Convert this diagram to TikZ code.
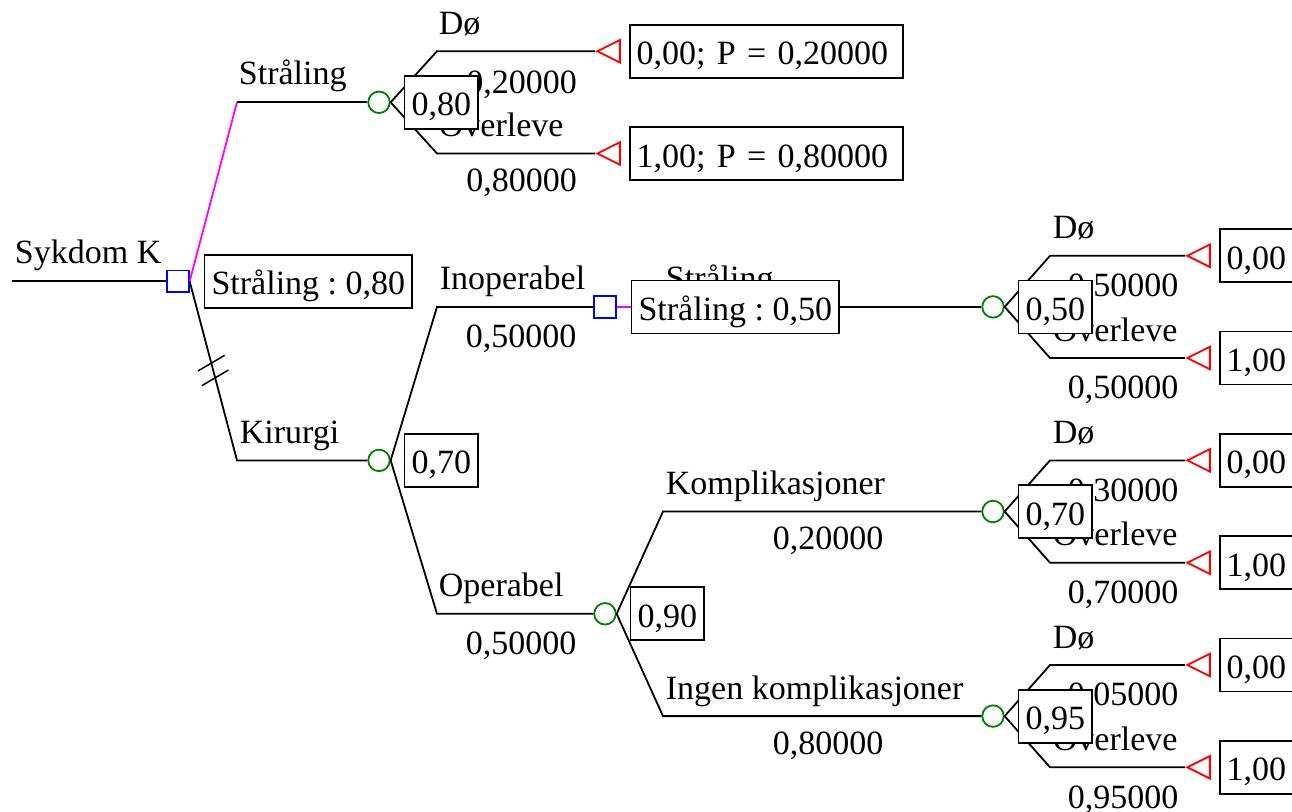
\documentclass[tikz,border=0pt]{standalone}
\usepackage{fontspec}
\setmainfont{Liberation Serif}
\usetikzlibrary{shapes.geometric,calc}
\definecolor{chgreen}{RGB}{0,128,0}
\definecolor{choice}{RGB}{255,0,255}
\frenchspacing

\begin{document}
\begin{tikzpicture}[x=1pt,y=-1pt,line width=1.8pt,
  font=\fontsize{34}{40}\selectfont,
  chance/.style={circle,draw=chgreen,minimum size=21.5pt,inner sep=0pt},
  decision/.style={rectangle,draw=blue,minimum size=21.5pt,inner sep=0pt},
  terminal/.style={isosceles triangle,isosceles triangle stretches,
    shape border rotate=180,draw=red,minimum width=22.5pt,minimum height=22.5pt,
    inner sep=0pt,anchor=apex},
  valbox/.style={draw,fill=white,inner xsep=7pt,inner ysep=10pt,
    text height=30pt,text depth=3pt,anchor=west},
  endbox/.style={valbox,text width=259pt,align=left},
  lbl/.style={inner sep=0pt,anchor=base west},
  prob/.style={inner sep=0pt,anchor=base},
  chosen/.style={draw=choice},
  hash/.style={line width=1.5pt},
]
\useasboundingbox (0,0) rectangle (1292,811);
\clip (0,0) rectangle (1292,811);

% ---- tree nodes ----
\coordinate (root) at (12,281.3);
\node[decision] (d0) at (178,281.3) {};
\node[chance] (cS) at (379,102.3) {};
\node[chance] (cK) at (379,460.4) {};
\node[terminal] (tS1) at (595,51.2) {};
\node[terminal] (tS2) at (595,153.5) {};
\node[decision] (dI) at (605,306.9) {};
\node[chance] (cO) at (605,613.8) {};
\node[chance] (cIS) at (993,306.9) {};
\node[chance] (cKo) at (993,511.5) {};
\node[chance] (cIn) at (993,716.1) {};
\node[terminal] (tIS1) at (1185,255.8) {};
\node[terminal] (tIS2) at (1185,358) {};
\node[terminal] (tKo1) at (1185,460.4) {};
\node[terminal] (tKo2) at (1185,562.7) {};
\node[terminal] (tIn1) at (1185,665) {};
\node[terminal] (tIn2) at (1185,767.3) {};

% ---- branch bends ----
\coordinate (bS) at (237,102.3);
\coordinate (bK) at (237,460.4);
\coordinate (bS1) at (437,51.2);
\coordinate (bS2) at (437,153.5);
\coordinate (bI) at (437,306.9);
\coordinate (bO) at (437,613.8);
\coordinate (bIS) at (663,306.9);
\coordinate (bKo) at (663,511.5);
\coordinate (bIn) at (663,716.1);
\coordinate (bIS1) at (1050,255.8);
\coordinate (bIS2) at (1050,358);
\coordinate (bKo1) at (1050,460.4);
\coordinate (bKo2) at (1050,562.7);
\coordinate (bIn1) at (1050,665);
\coordinate (bIn2) at (1050,767.3);

% ---- connectors ----
\draw (root) -- (d0.west);
\draw[chosen] (d0.east) -- (bS);
\draw (bS) -- (cS.west);
\draw (d0.east) -- (bK) -- (cK.west);
\draw (cS.east) -- (bS1) -- (tS1.apex);
\draw (cS.east) -- (bS2) -- (tS2.apex);
\draw (cK.east) -- (bI) -- (dI.west);
\draw (cK.east) -- (bO) -- (cO.west);
\draw[chosen] (dI.east) -- (bIS);
\draw (bIS) -- (cIS.west);
\draw (cO.east) -- (bKo) -- (cKo.west);
\draw (cO.east) -- (bIn) -- (cIn.west);
\draw (cIS.east) -- (bIS1) -- (tIS1.apex);
\draw (cIS.east) -- (bIS2) -- (tIS2.apex);
\draw (cKo.east) -- (bKo1) -- (tKo1.apex);
\draw (cKo.east) -- (bKo2) -- (tKo2.apex);
\draw (cIn.east) -- (bIn1) -- (tIn1.apex);
\draw (cIn.east) -- (bIn2) -- (tIn2.apex);

% rejected alternative marks
\path (d0.east) -- (bK) coordinate[pos=0.457] (h1) coordinate[pos=0.539] (h2);
\draw[hash] ($(h1)+(-13.3,7.8)$) -- ($(h1)+(13.3,-7.8)$);
\draw[hash] ($(h2)+(-13.3,7.8)$) -- ($(h2)+(13.3,-7.8)$);

% ---- branch labels ----
\node[lbl] (lRoot) at (14,263.5) {Sykdom K};
\node[lbl] (lS) at (238,84.5) {Stråling};
\node[lbl] (lK) at (239,443.4) {Kirurgi};
\node[lbl] (lS1) at (438,34.2) {Dø};
\node[prob] (pS1) at (521.5,93) {0,20000};
\node[lbl] (lS2) at (438,136.5) {Overleve};
\node[prob] (pS2) at (521.5,191) {0,80000};
\node[lbl] (lI) at (439,289.9) {Inoperabel};
\node[prob] (pI) at (521,347.5) {0,50000};
\node[lbl] (lO) at (438,596.8) {Operabel};
\node[prob] (pO) at (521,654.5) {0,50000};
\node[lbl] (lIS) at (665,289.9) {Stråling};
\node[lbl] (lKo) at (665,494.5) {Komplikasjoner};
\node[prob] (pKo) at (828,549) {0,20000};
\node[lbl] (lIn) at (665,699.1) {Ingen komplikasjoner};
\node[prob] (pIn) at (828,754) {0,80000};
\node[lbl] (lIS1) at (1052,238.8) {Dø};
\node[prob] (pIS1) at (1123,296.5) {0,50000};
\node[lbl] (lIS2) at (1052,341) {Overleve};
\node[prob] (pIS2) at (1123,398.5) {0,50000};
\node[lbl] (lKo1) at (1052,443.4) {Dø};
\node[prob] (pKo1) at (1123,501) {0,30000};
\node[lbl] (lKo2) at (1052,545.7) {Overleve};
\node[prob] (pKo2) at (1123,603) {0,70000};
\node[lbl] (lIn1) at (1052,648) {Dø};
\node[prob] (pIn1) at (1123,705.5) {0,05000};
\node[lbl] (lIn2) at (1052,750.3) {Overleve};
\node[prob] (pIn2) at (1123,808) {0,95000};

% ---- value boxes ----
\node[valbox] (vD0) at ($(d0.east)+(14,0)$) {Stråling : 0,80};
\node[valbox] (vS) at ($(cS.east)+(13,0)$) {0,80};
\node[valbox] (vK) at ($(cK.east)+(13,0)$) {0,70};
\node[valbox] (vDI) at ($(dI.east)+(14,0)$) {Stråling : 0,50};
\node[valbox] (vO) at ($(cO.east)+(13,0)$) {0,90};
\node[valbox] (vIS) at ($(cIS.east)+(13,0)$) {0,50};
\node[valbox] (vKo) at ($(cKo.east)+(13,0)$) {0,70};
\node[valbox] (vIn) at ($(cIn.east)+(13,0)$) {0,95};

% ---- payoff boxes ----
\node[endbox] (eS1) at ($(tS1.east)+(8,0)$) {0,00; P = 0,20000};
\node[endbox] (eS2) at ($(tS2.east)+(8,0)$) {1,00; P = 0,80000};
\node[endbox] (eIS1) at ($(tIS1.east)+(8,0)$) {0,00};
\node[endbox] (eIS2) at ($(tIS2.east)+(8,0)$) {1,00};
\node[endbox] (eKo1) at ($(tKo1.east)+(8,0)$) {0,00};
\node[endbox] (eKo2) at ($(tKo2.east)+(8,0)$) {1,00};
\node[endbox] (eIn1) at ($(tIn1.east)+(8,0)$) {0,00};
\node[endbox] (eIn2) at ($(tIn2.east)+(8,0)$) {1,00};
\end{tikzpicture}
\end{document}
